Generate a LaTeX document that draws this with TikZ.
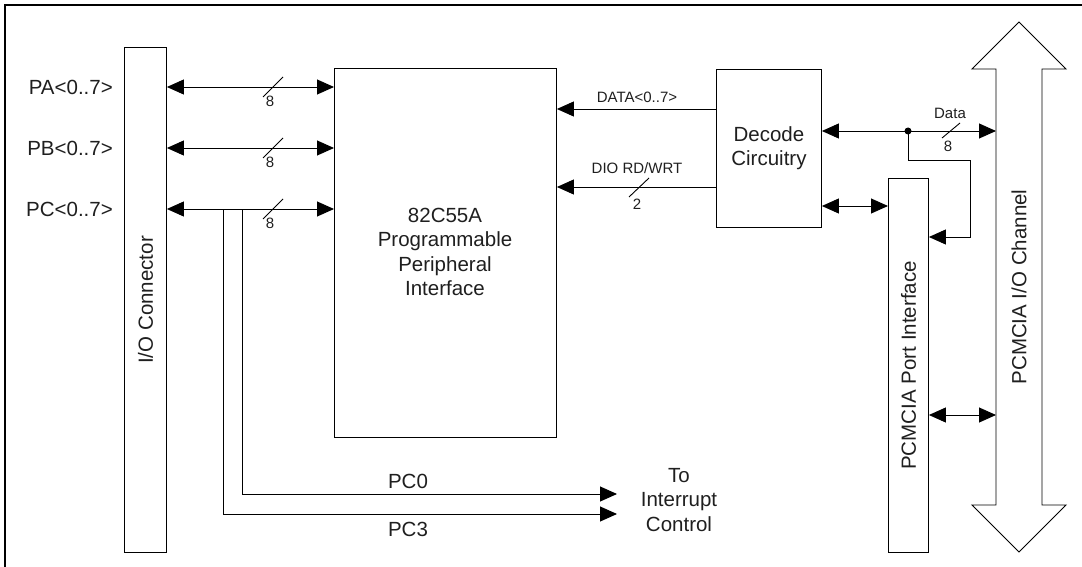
\documentclass[tikz,border=0pt]{standalone}
\usepackage{fontspec}
\setmainfont{Liberation Sans}
\usetikzlibrary{arrows.meta}
\begin{document}
\begin{tikzpicture}[x=1pt,y=-1pt,
  box/.style={draw, line width=0.9pt, inner sep=0pt, anchor=north west},
  conn/.style={line width=0.9pt},
  tp/.tip={Triangle[length=17pt,width=15pt]},
  big/.style={font=\fontsize{20.5}{24.5}\selectfont, text=black!88, inner sep=0pt},
  small/.style={font=\fontsize{15}{18}\selectfont, text=black!88, inner sep=0pt},
]
\useasboundingbox (0,0) rectangle (1082,567);
% frame
\draw[line width=2.2pt] (5,567) -- (5,5) -- (1082,5);

% boxes
\node[box, minimum width=42pt, minimum height=505pt] (io) at (124,47) {};
\node[big, rotate=90] (iot) at (io.center) {I/O Connector};
\node[box, minimum width=222pt, minimum height=369pt] (ppi) at (334,68) {};
\node[big, align=center] (ppit) at (445,252) {82C55A\\Programmable\\Peripheral\\Interface};
\node[box, minimum width=105pt, minimum height=158pt, big, align=center] (dec) at (716,69) {Decode\\Circuitry};
\node[box, minimum width=40pt, minimum height=374pt] (port) at (888,178) {};
\node[big, rotate=90] (portt) at (port.center) {PCMCIA Port Interface};

% PCMCIA I/O channel big double arrow
\draw[line width=0.9pt] (1019,22) -- (1066,69) -- (1042,69) -- (1042,505) -- (1066,505)
  -- (1019,552) -- (972,505) -- (996,505) -- (996,69) -- (972,69) -- cycle;
\coordinate (chL) at (996,287);
\node[big, rotate=90] (cht) at (1019,287) {PCMCIA I/O Channel};

% port labels
\node[big, anchor=east] (pa) at (113,87) {PA<0..7>};
\node[big, anchor=east] (pb) at (113,148) {PB<0..7>};
\node[big, anchor=east] (pc) at (113,209) {PC<0..7>};

% PA/PB/PC buses
\draw[conn, tp-tp] (io.east |- pa) -- (ppi.west |- pa);
\draw[conn, tp-tp] (io.east |- pb) -- (ppi.west |- pb);
\draw[conn, tp-tp] (io.east |- pc) -- (ppi.west |- pc);
\draw[conn] (263,97) -- (283,77);
\node[small] (na) at (270,101) {8};
\draw[conn] (263,158) -- (283,138);
\node[small] (nb) at (270,162) {8};
\draw[conn] (263,219) -- (283,199);
\node[small] (nc) at (270,223) {8};

% PC0 / PC3 to interrupt control
\coordinate (pc3s) at (223,209);
\coordinate (pc0s) at (242,209);
\coordinate (pc0e) at (617,494);
\coordinate (pc3e) at (617,514);
\draw[conn, -tp] (pc0s) |- (pc0e);
\draw[conn, -tp] (pc3s) |- (pc3e);
\node[big] (pc0l) at (408,481) {PC0};
\node[big] (pc3l) at (408,529) {PC3};
\node[big, align=center] (intc) at (679,500) {To\\Interrupt\\Control};

% decode to 82C55A
\coordinate (dl) at (0,109);
\coordinate (rl) at (0,187);
\draw[conn, -tp] (dec.west |- dl) -- (ppi.east |- dl);
\node[small] (datal) at (637,97) {DATA<0..7>};
\draw[conn, -tp] (dec.west |- rl) -- (ppi.east |- rl);
\node[small] (rdl) at (637,168) {DIO RD/WRT};
\draw[conn] (629,197) -- (649,178);
\node[small] (n2) at (637,204) {2};

% data bus to channel
\coordinate (db) at (0,131);
\coordinate (j) at (908,131);
\draw[conn, tp-tp] (dec.east |- db) -- (chL |- db);
\fill (j) circle (3.5pt);
\node[small] (datat) at (950,113) {Data};
\draw[conn] (942,138) -- (960,123);
\node[small] (n8) at (948,146) {8};
\coordinate (br) at (970,160);
\coordinate (pl) at (0,237);
\draw[conn, -tp] (j) |- (br) |- (port.east |- pl);

% decode <-> port, port <-> channel
\coordinate (dp) at (0,206);
\draw[conn, tp-tp] (dec.east |- dp) -- (port.west |- dp);
\coordinate (pcl) at (0,415);
\draw[conn, tp-tp] (port.east |- pcl) -- (chL |- pcl);
\end{tikzpicture}
\end{document}
